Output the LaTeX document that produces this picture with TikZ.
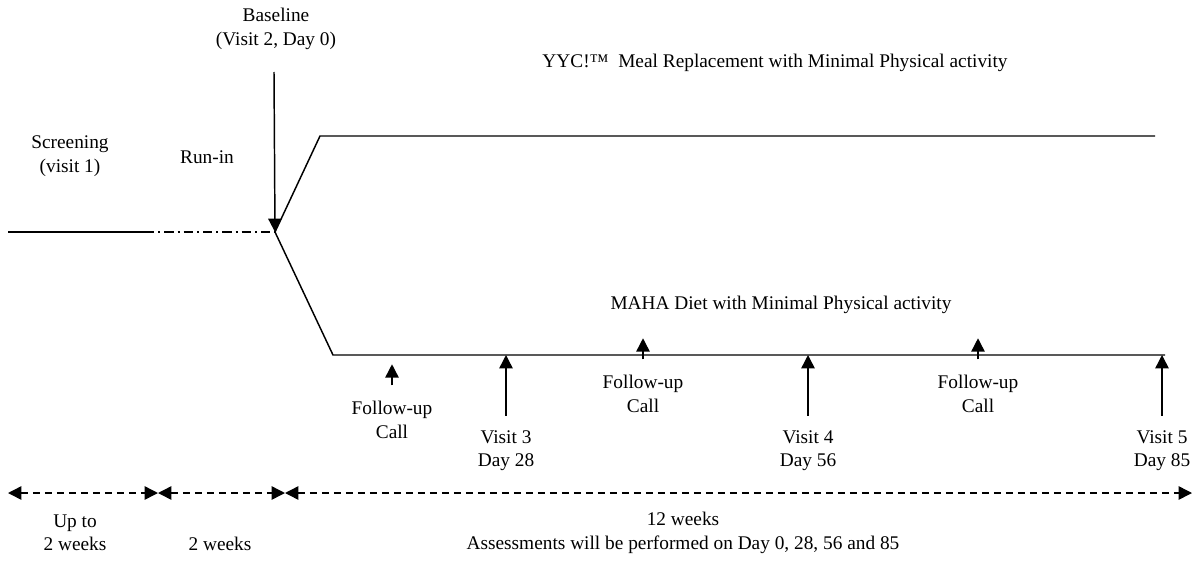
\documentclass[tikz,border=0pt]{standalone}
\usepackage{fontspec}
\setmainfont{Liberation Serif}
\usetikzlibrary{arrows.meta}

\begin{document}
\begin{tikzpicture}[x=0.75pt,y=-0.75pt,>={Triangle[length=10pt,width=10pt]},
        line/.style={line width=1.1pt},
        lbl/.style={align=center,inner sep=0pt,font=\fontsize{14.5}{17.5}\selectfont},
        span/.style={<->,line width=1.1pt,dash pattern=on 5pt off 4pt}]
        \useasboundingbox (0,0) rectangle (1199,571);
        % time line and the two arms
        \coordinate (w)   at (8,232);
        \coordinate (scr) at (145,232);
        \coordinate (bl)  at (275,232);
        \coordinate (up1) at (320,136);
        \coordinate (up2) at (1155,136);
        \coordinate (lo1) at (333,355);
        \coordinate (lo2) at (1165,355);
        \draw[line] (w) -- (scr);
        \draw[line,dash pattern=on 7pt off 3pt on 1.5pt off 3pt] (scr) -- (bl);
        \draw[line] (bl) -- (up1) -- (up2);
        \draw[line] (bl) -- (lo1) -- (lo2);
        % labels over the time line
        \node[lbl] (base)  at (276,29)  {Baseline\\(Visit 2, Day 0)};
        \node[lbl] (scrn)  at (70,156)  {Screening\\(visit 1)};
        \node[lbl] (runin) at (207,157) {Run-in};
        \node[lbl] (yyc)   at (775,63)  {YYC!™\ \ Meal Replacement with Minimal Physical activity};
        \node[lbl] (maha)  at (781,305) {MAHA Diet with Minimal Physical activity};
        \coordinate (btop) at (274,72);
        \draw[->,line] (btop) -- (bl);
        % visits and calls
        \node[lbl] (fu1) at (392,420) {Follow-up\\Call};
        \node[lbl] (v3)  at (506,451) {Visit 3\\Day 28};
        \node[lbl] (fu2) at (643,394) {Follow-up\\Call};
        \node[lbl] (v4)  at (808,451) {Visit 4\\Day 56};
        \node[lbl] (fu3) at (978,394) {Follow-up\\Call};
        \node[lbl] (v5)  at (1162,451) {Visit 5\\Day 85};
        \draw[->,line] ([yshift=12pt]fu1.north) -- +(0,-21);
        \draw[->,line] ([yshift=12pt]fu2.north) -- +(0,-21);
        \draw[->,line] ([yshift=12pt]fu3.north) -- +(0,-21);
        \draw[->,line] ([yshift=11pt]v3.north) -- (v3.north |- lo2);
        \draw[->,line] ([yshift=11pt]v4.north) -- (v4.north |- lo2);
        \draw[->,line] ([yshift=11pt]v5.north) -- (v5.north |- lo2);
        % durations
        \coordinate (s0) at (8,493);
        \coordinate (s1) at (158,493);
        \coordinate (s2) at (285,493);
        \coordinate (s3) at (1192,493);
        \draw[span] (s0) -- (s1);
        \draw[span] (s1) -- (s2);
        \draw[span] (s2) -- (s3);
        \node[lbl] (upto)  at (75,533)  {Up to\\2 weeks};
        \node[lbl] (twowk) at (220,544) {2 weeks};
        \node[lbl] (tw)    at (683,533) {12 weeks\\Assessments will be performed on Day 0, 28, 56 and 85};
\end{tikzpicture}
\end{document}
